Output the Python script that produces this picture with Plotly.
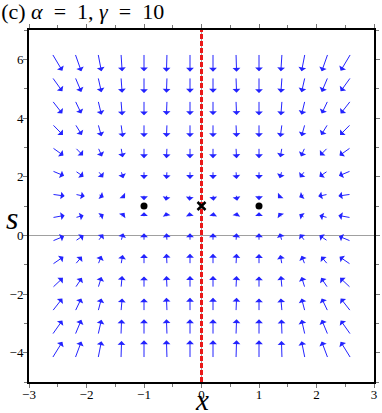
import plotly.graph_objects as go

# grid of the vector field (arrow tails)
x_cols = [-2.6, -2.2, -1.8, -1.4, -1.0, -0.6, -0.2, 0.2, 0.6, 1.0, 1.4, 1.8, 2.2, 2.6]
s_rows = [6.2, 5.4, 4.6, 3.8, 3.0, 2.2, 1.4, 0.6, -0.2, -1.0, -1.8, -2.6, -3.4, -4.2]

# arrow components (x units), one row per s value
U = [
    [.18, .11, .06, .02, 0, -.01, 0, 0, .01, 0, -.02, -.06, -.11, -.18],
    [.18, .11, .06, .02, 0, -.01, 0, 0, .01, 0, -.02, -.06, -.11, -.18],
    [.18, .11, .06, .02, 0, -.01, 0, 0, .01, 0, -.02, -.06, -.11, -.18],
    [.19, .12, .06, .03, 0, -.01, 0, 0, .01, 0, -.03, -.06, -.12, -.19],
    [.20, .14, .07, .03, 0, -.01, 0, 0, .01, 0, -.03, -.07, -.14, -.20],
    [.21, .15, .09, .04, 0, -.01, 0, 0, .01, 0, -.04, -.09, -.15, -.21],
    [.22, .17, .10, .07, 0, -.02, -.01, .01, .02, 0, -.07, -.10, -.17, -.22],
    [.22, .15, .10, .06, 0, -.02, -.01, .01, .02, 0, -.06, -.10, -.15, -.22],
    [.21, .15, .09, .04, 0, -.01, 0, 0, .01, 0, -.04, -.09, -.15, -.21],
    [.20, .12, .06, .03, 0, -.01, 0, 0, .01, 0, -.03, -.06, -.12, -.20],
    [.19, .12, .06, .02, 0, -.01, 0, 0, .01, 0, -.02, -.06, -.12, -.19],
    [.18, .11, .06, .02, 0, -.01, 0, 0, .01, 0, -.02, -.06, -.11, -.18],
    [.18, .11, .06, .01, 0, -.01, 0, 0, .01, 0, -.01, -.06, -.11, -.18],
    [.18, .11, .06, .01, 0, -.01, 0, 0, .01, 0, -.01, -.06, -.11, -.18],
]

# arrow components (s units)
V = [
    [-.59, -.61, -.61, -.61, -.61, -.62, -.62, -.62, -.62, -.61, -.61, -.61, -.61, -.59],
    [-.49, -.51, -.52, -.54, -.55, -.54, -.54, -.54, -.54, -.55, -.54, -.52, -.51, -.49],
    [-.45, -.45, -.49, -.51, -.51, -.50, -.50, -.50, -.50, -.51, -.51, -.49, -.45, -.45],
    [-.38, -.38, -.42, -.45, -.45, -.45, -.45, -.45, -.45, -.45, -.45, -.42, -.38, -.38],
    [-.28, -.28, -.31, -.34, -.37, -.37, -.37, -.37, -.37, -.37, -.34, -.31, -.28, -.28],
    [-.17, -.20, -.23, -.25, -.28, -.28, -.28, -.28, -.28, -.28, -.25, -.23, -.20, -.17],
    [-.06, -.07, -.10, -.14, -.20, -.22, -.22, -.22, -.22, -.20, -.14, -.10, -.07, -.06],
    [.08, .08, .12, .17, .19, .19, .19, .19, .19, .19, .17, .12, .08, .08],
    [.17, .20, .24, .27, .27, .27, .27, .27, .27, .27, .27, .24, .20, .17],
    [.27, .28, .30, .33, .36, .37, .37, .37, .37, .36, .33, .30, .28, .27],
    [.35, .35, .38, .41, .40, .41, .41, .41, .41, .40, .41, .38, .35, .35],
    [.45, .45, .45, .45, .45, .47, .47, .47, .47, .45, .45, .45, .45, .45],
    [.50, .52, .52, .53, .54, .54, .54, .54, .54, .54, .53, .52, .52, .50],
    [.57, .58, .59, .60, .62, .62, .62, .62, .62, .62, .60, .59, .58, .57],
]

# fixed points
stable_x = [-1, 1]
stable_s = [1, 1]
saddle_x = [0]
saddle_s = [1]

SERIF = "Liberation Serif"
ARROW_BLUE = "rgb(35,35,255)"

fig = go.Figure()

# red dashed line x = 0
fig.add_trace(go.Scatter(x=[0, 0], y=[-5, 7], mode="lines",
                         line=dict(color="rgb(235,25,25)", width=3, dash="5px,2px"),
                         hoverinfo="skip", showlegend=False))

fig.add_trace(go.Scatter(x=stable_x, y=stable_s, mode="markers",
                         marker=dict(color="black", size=7), showlegend=False))
fig.add_trace(go.Scatter(x=saddle_x, y=saddle_s, mode="markers",
                         marker=dict(symbol="x-thin", size=8, line=dict(color="black", width=2.5)),
                         showlegend=False))

# arrows start at the grid points
annotations = []
for i, s in enumerate(s_rows):
    for j, x in enumerate(x_cols):
        u = U[i][j]
        v = V[i][j]
        annotations.append(dict(
            x=x + u, y=s + v, ax=x, ay=s,
            xref="x", yref="y", axref="x", ayref="y",
            text="", showarrow=True, arrowhead=1, arrowsize=1.3,
            arrowwidth=1, arrowcolor=ARROW_BLUE, standoff=0, startstandoff=0,
        ))

annotations.append(dict(text="<i>s</i>", xref="paper", yref="paper", x=-0.072, y=0.465,
                        showarrow=False, font=dict(family=SERIF, size=32, color="black")))
annotations.append(dict(text="<i>x</i>", xref="paper", yref="paper", x=0.5, y=-0.103,
                        yanchor="bottom", showarrow=False,
                        font=dict(family=SERIF, size=29, color="black")))

sp = "\u00a0"
fig.update_layout(
    width=382, height=413,
    margin=dict(l=29, r=2, t=30, b=31),
    paper_bgcolor="white", plot_bgcolor="white",
    font=dict(family=SERIF, size=13, color="black"),
    title=dict(text=f"(c){sp}<i>α</i>{sp*2}={sp*2}1,{sp}<i>γ</i>{sp*2}={sp*2}10",
               x=0.003, xanchor="left", y=0.972, yanchor="middle",
               font=dict(family=SERIF, size=22, color="black")),
    annotations=annotations,
    showlegend=False,
)

fig.update_xaxes(range=[-3, 3], dtick=1, tick0=-3, showgrid=False,
                 zeroline=True, zerolinecolor="#a0a0a0", zerolinewidth=1,
                 showline=True, linecolor="black", linewidth=2, mirror="ticks",
                 ticks="outside", ticklen=4, tickcolor="#777", ticklabelstandoff=-5,
                 minor=dict(dtick=0.5, ticks="outside", ticklen=3, tickcolor="#777"))
fig.update_yaxes(range=[-5, 7], dtick=2, tick0=0, showgrid=False,
                 zeroline=True, zerolinecolor="#a0a0a0", zerolinewidth=1,
                 showline=True, linecolor="black", linewidth=2, mirror="ticks",
                 ticks="outside", ticklen=4, tickcolor="#777", ticklabelstandoff=-3,
                 minor=dict(dtick=1, ticks="outside", ticklen=3, tickcolor="#777"))

# the page's default 8px body margin would shift the figure
fig.write_html("out.html", config={"displayModeBar": False},
               post_script="document.body.style.margin='0';")
